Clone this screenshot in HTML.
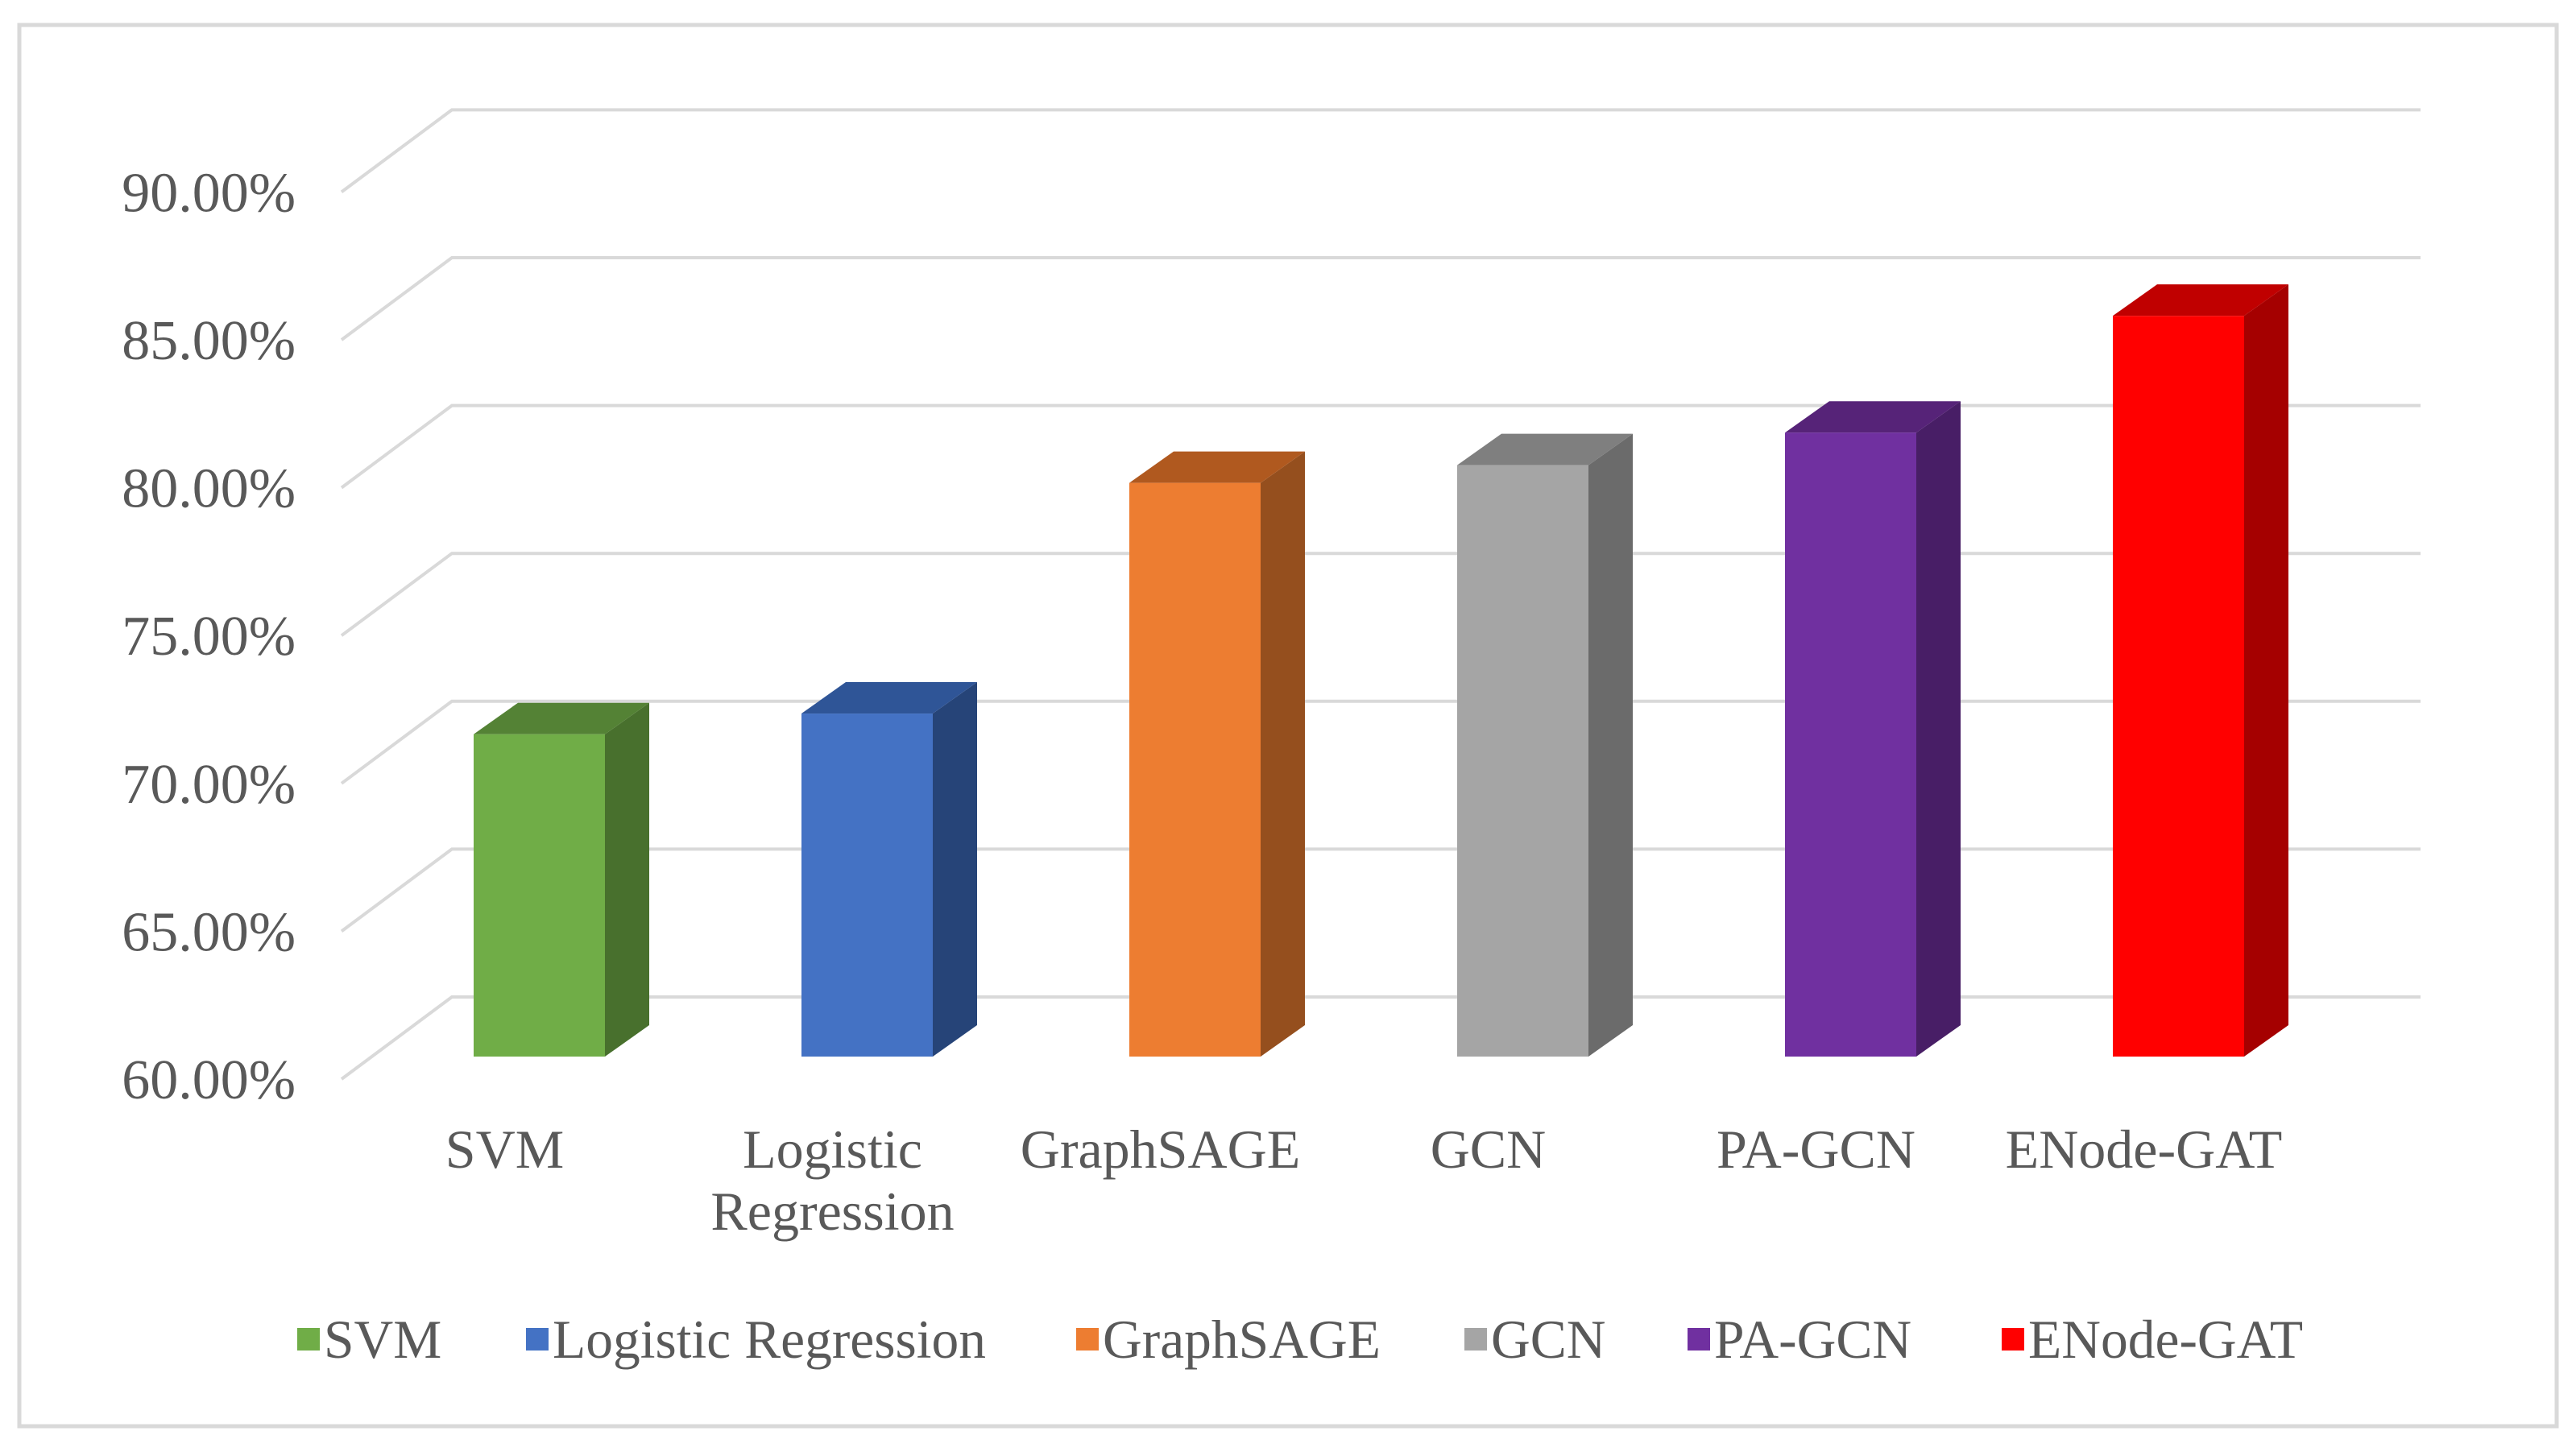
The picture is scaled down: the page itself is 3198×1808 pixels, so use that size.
<!DOCTYPE html>
<html><head><meta charset="utf-8"><style>
html,body{margin:0;padding:0;background:#fff;}
svg{display:block;}
text{font-family:"Liberation Serif",serif;fill:#595959;}
</style></head><body>
<svg id="chart" width="3198" height="1808" viewBox="0 0 3198 1808" xmlns="http://www.w3.org/2000/svg">
<rect x="24" y="31" width="3150" height="1740" fill="#fff" stroke="#d9d9d9" stroke-width="5"/>
<g id="grid"></g>
<g id="yticks"></g>
<g id="bars"></g>
<g id="xlabels"></g>
<g id="legend"></g>
</svg>
<script>
const categories = ["SVM","Logistic Regression","GraphSAGE","GCN","PA-GCN","ENode-GAT"];
const catLines = [["SVM"],["Logistic","Regression"],["GraphSAGE"],["GCN"],["PA-GCN"],["ENode-GAT"]];
const values = [70.9, 71.6, 79.4, 80.0, 81.1, 85.05];
const tickValues = [60,65,70,75,80,85,90];
const tickLabels = ["60.00%","65.00%","70.00%","75.00%","80.00%","85.00%","90.00%"];
const frontColors = ["#70ad47","#4472c4","#ed7d31","#a5a5a5","#7030a0","#ff0000"];
const sideColors = ["#48702d","#264478","#954f1e","#6b6b6b","#481e66","#a50000"];
const topColors = ["#548235","#2f5597","#b0591f","#7f7f7f","#562378","#c00000"];

const NS = "http://www.w3.org/2000/svg";
const PX = 36.72;
function yFrontPlane(v){ return 1340 - (v-60)*PX; }
function yBackPlane(v){ return 1238 - (v-60)*PX; }
function yBar(v){ return 1312 - (v-60)*PX; }
function xBar(i){ return 588 + i*407; }
const barW = 163, depX = 55, depY = 39;

function mk(tag, attrs){ const e=document.createElementNS(NS,tag); for(const k in attrs) e.setAttribute(k,attrs[k]); return e; }

const grid=document.getElementById('grid');
const yt=document.getElementById('yticks');
tickValues.forEach((v,i)=>{
  const p = mk('polyline',{points:`424,${yFrontPlane(v)} 561,${yBackPlane(v)} 3005,${yBackPlane(v)}`,fill:'none',stroke:'#d9d9d9','stroke-width':4});
  
  
  grid.appendChild(p);
  const t = mk('text',{x:367,y:yFrontPlane(v)+24,'text-anchor':'end','font-size':70});
  t.textContent = tickLabels[i];
  
  
  yt.appendChild(t);
});

const bars=document.getElementById('bars');
const xl=document.getElementById('xlabels');
values.forEach((v,i)=>{
  const x=xBar(i), y=yBar(v), b=yBar(60);
  const g=mk('g',{});
  
  
  g.appendChild(mk('polygon',{points:`${x+barW},${y} ${x+barW+depX},${y-depY} ${x+barW+depX},${b-depY} ${x+barW},${b}`,fill:sideColors[i]}));
  g.appendChild(mk('polygon',{points:`${x},${y} ${x+depX},${y-depY} ${x+barW+depX},${y-depY} ${x+barW},${y}`,fill:topColors[i]}));
  g.appendChild(mk('rect',{x:x,y:y,width:barW,height:b-y,fill:frontColors[i]}));
  bars.appendChild(g);
  const cx = x + barW/2 - 43;
  catLines[i].forEach((ln,j)=>{
    const t=mk('text',{x:cx,y:1450+j*77,'text-anchor':'middle','font-size':68});
    t.textContent=ln;
    
    
    xl.appendChild(t);
  });
});

const legend=document.getElementById('legend');
const legX=[369,653,1336,1818,2095,2485];
categories.forEach((c,i)=>{
  const g=mk('g',{});
  
  
  g.appendChild(mk('rect',{x:legX[i],y:1649,width:28,height:28,fill:frontColors[i]}));
  const t=mk('text',{x:legX[i]+33,y:1686,'font-size':67.5});
  t.textContent=c;
  g.appendChild(t);
  legend.appendChild(g);
});
</script>
</body></html>
